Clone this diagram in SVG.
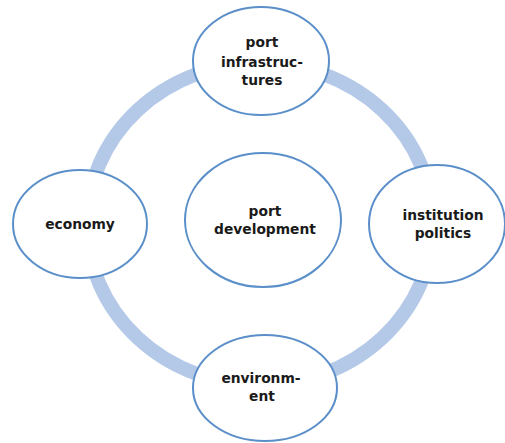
<svg xmlns="http://www.w3.org/2000/svg" width="505" height="443" viewBox="0 0 505 443">
<style>
.node{fill:#ffffff;stroke:#5b8fc9;stroke-width:2}
.lbl{font-family:"DejaVu Sans",sans-serif;font-weight:bold;font-size:13.8px;fill:#1a1a1a;text-anchor:middle}
.ring{fill:none;stroke:#b4c9e8;stroke-width:14}
</style>
<rect width="505" height="443" fill="#ffffff"/>
<g id="connectors">
<ellipse class="ring" cx="260" cy="224" rx="173" ry="161"/>
</g>
<g id="node-center">
<ellipse class="node" cx="263" cy="220" rx="78" ry="67"/>
<text class="lbl" x="265" y="216">port</text>
<text class="lbl" x="265" y="234">development</text>
</g>
<g id="node-top">
<ellipse class="node" cx="261" cy="61" rx="68" ry="54"/>
<text class="lbl" x="262" y="47">port</text>
<text class="lbl" x="262" y="67">infrastruc-</text>
<text class="lbl" x="262" y="85">tures</text>
</g>
<g id="node-left">
<ellipse class="node" cx="80" cy="224" rx="67" ry="54"/>
<text class="lbl" x="80" y="229">economy</text>
</g>
<g id="node-right">
<ellipse class="node" cx="437" cy="224" rx="68" ry="59"/>
<text class="lbl" x="443" y="220">institution</text>
<text class="lbl" x="443" y="238">politics</text>
</g>
<g id="node-bottom">
<ellipse class="node" cx="265" cy="388" rx="72" ry="53"/>
<text class="lbl" x="261" y="383">environm-</text>
<text class="lbl" x="262" y="401">ent</text>
</g>
</svg>
